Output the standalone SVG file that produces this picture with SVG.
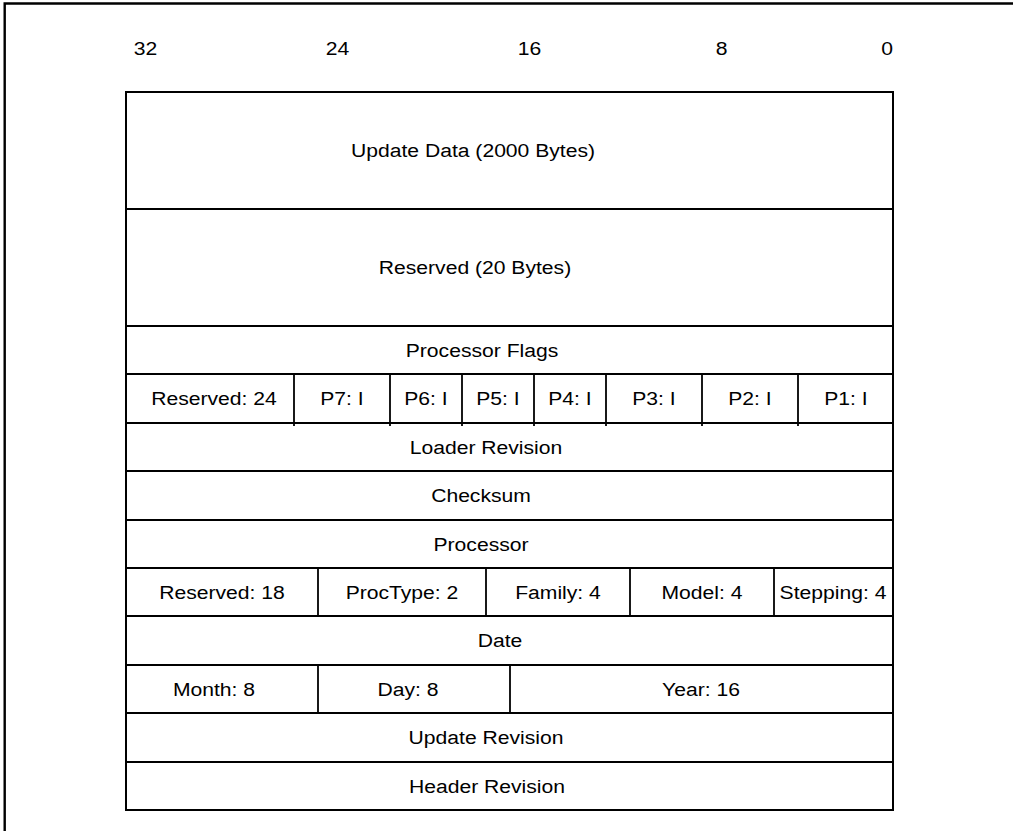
<svg xmlns="http://www.w3.org/2000/svg" width="1013" height="831" viewBox="0 0 1013 831">
<style>
.frame{fill:none;stroke:#000;stroke-width:2.4}
.c{fill:#fff;stroke:#000;stroke-width:2}
.d{stroke:#000;stroke-width:1.8}
.t{font-family:"Liberation Sans",Arial,Helvetica,sans-serif;font-size:19.2px;fill:#000;text-anchor:middle}
</style>
<rect width="1013" height="831" fill="#fff"/>
<path class="frame" d="M4.7 831 V3.5 H1013"/>
<g id="bit-scale">
<text class="t" transform="translate(145.5 55) scale(1.1 1)">32</text>
<text class="t" transform="translate(337.5 55) scale(1.1 1)">24</text>
<text class="t" transform="translate(529.5 55) scale(1.1 1)">16</text>
<text class="t" transform="translate(721.5 55) scale(1.1 1)">8</text>
<text class="t" transform="translate(887 55) scale(1.1 1)">0</text>
</g>
<g id="update-data"><rect class="c" x="126" y="92" width="767" height="117"/><text class="t" transform="translate(473 157) scale(1.1 1)">Update Data (2000 Bytes)</text></g>
<g id="reserved-20"><rect class="c" x="126" y="209" width="767" height="117"/><text class="t" transform="translate(475 274) scale(1.1 1)">Reserved (20 Bytes)</text></g>
<g id="processor-flags"><rect class="c" x="126" y="326" width="767" height="48"/><text class="t" transform="translate(482 357) scale(1.1 1)">Processor Flags</text></g>
<g id="flags-bits">
<rect class="c" x="126" y="374" width="767" height="49"/>
<g id="reserved-24"><text class="t" transform="translate(214 405) scale(1.1 1)">Reserved: 24</text></g>
<g id="p7"><text class="t" transform="translate(342 405) scale(1.1 1)">P7: I</text></g>
<g id="p6"><text class="t" transform="translate(426 405) scale(1.1 1)">P6: I</text></g>
<g id="p5"><text class="t" transform="translate(498 405) scale(1.1 1)">P5: I</text></g>
<g id="p4"><text class="t" transform="translate(570 405) scale(1.1 1)">P4: I</text></g>
<g id="p3"><text class="t" transform="translate(654 405) scale(1.1 1)">P3: I</text></g>
<g id="p2"><text class="t" transform="translate(750 405) scale(1.1 1)">P2: I</text></g>
<g id="p1"><text class="t" transform="translate(846 405) scale(1.1 1)">P1: I</text></g>
</g>
<g id="loader-revision"><rect class="c" x="126" y="423" width="767" height="48"/><text class="t" transform="translate(486 454) scale(1.1 1)">Loader Revision</text></g>
<g id="checksum"><rect class="c" x="126" y="471" width="767" height="49"/><text class="t" transform="translate(481 502) scale(1.1 1)">Checksum</text></g>
<g id="processor"><rect class="c" x="126" y="520" width="767" height="48"/><text class="t" transform="translate(481 551) scale(1.1 1)">Processor</text></g>
<g id="processor-fields">
<rect class="c" x="126" y="568" width="767" height="48"/>
<g id="reserved-18"><text class="t" transform="translate(222 599) scale(1.1 1)">Reserved: 18</text></g>
<g id="proctype"><text class="t" transform="translate(402 599) scale(1.1 1)">ProcType: 2</text></g>
<g id="family"><text class="t" transform="translate(558 599) scale(1.1 1)">Family: 4</text></g>
<g id="model"><text class="t" transform="translate(702 599) scale(1.1 1)">Model: 4</text></g>
<g id="stepping"><text class="t" transform="translate(833 599) scale(1.1 1)">Stepping: 4</text></g>
</g>
<g id="date"><rect class="c" x="126" y="616" width="767" height="49"/><text class="t" transform="translate(500 647) scale(1.1 1)">Date</text></g>
<g id="date-fields">
<rect class="c" x="126" y="665" width="767" height="48"/>
<g id="month"><text class="t" transform="translate(214 696) scale(1.1 1)">Month: 8</text></g>
<g id="day"><text class="t" transform="translate(408 696) scale(1.1 1)">Day: 8</text></g>
<g id="year"><text class="t" transform="translate(701 696) scale(1.1 1)">Year: 16</text></g>
</g>
<g id="update-revision"><rect class="c" x="126" y="713" width="767" height="49"/><text class="t" transform="translate(486 744) scale(1.1 1)">Update Revision</text></g>
<g id="header-revision"><rect class="c" x="126" y="762" width="767" height="48"/><text class="t" transform="translate(487 793) scale(1.1 1)">Header Revision</text></g>
<g id="dividers">
<line class="d" x1="294" y1="374" x2="294" y2="426"/>
<line class="d" x1="390" y1="374" x2="390" y2="426"/>
<line class="d" x1="462" y1="374" x2="462" y2="426"/>
<line class="d" x1="534" y1="374" x2="534" y2="426"/>
<line class="d" x1="606" y1="374" x2="606" y2="426"/>
<line class="d" x1="702" y1="374" x2="702" y2="426"/>
<line class="d" x1="798" y1="374" x2="798" y2="426"/>
<line class="d" x1="318" y1="568" x2="318" y2="616"/>
<line class="d" x1="486" y1="568" x2="486" y2="616"/>
<line class="d" x1="630" y1="568" x2="630" y2="616"/>
<line class="d" x1="774" y1="568" x2="774" y2="616"/>
<line class="d" x1="318" y1="665" x2="318" y2="713"/>
<line class="d" x1="510" y1="665" x2="510" y2="713"/>
</g>
</svg>
